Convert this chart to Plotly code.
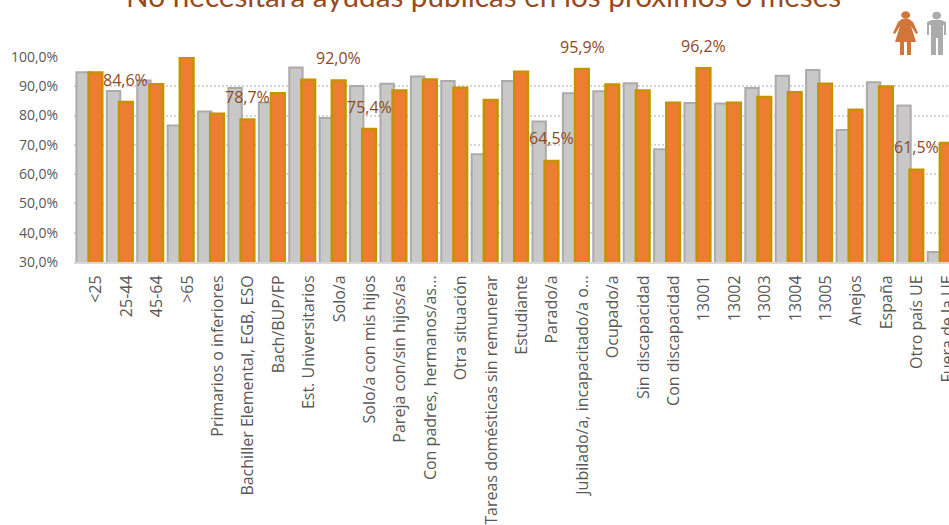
import plotly.graph_objects as go

categories = ["<25","25-44","45-64",">65","Primarios o inferiores","Bachiller Elemental, EGB, ESO","Bach/BUP/FP","Est. Universitarios","Solo/a","Solo/a con mis hijos","Pareja con/sin hijos/as","Con padres, hermanos/as...","Otra situación","Tareas domésticas sin remunerar","Estudiante","Parado/a","Jubilado/a, incapacitado/a o...","Ocupado/a","Sin discapacidad","Con discapacidad","13001","13002","13003","13004","13005","Anejos","España","Otro país UE","Fuera de la UE"]
hombres = [94.8,88.4,92.0,76.6,81.4,89.4,84.5,96.4,79.2,90.1,90.9,93.3,91.8,66.8,91.8,78.0,87.6,88.3,91.0,68.5,84.3,84.1,89.4,93.6,95.6,75.1,91.4,83.4,33.4]
mujeres = [94.7,84.6,90.7,100.0,80.6,78.7,87.6,92.2,92.0,75.4,88.6,92.3,89.5,85.3,95.0,64.5,95.9,90.6,88.6,84.4,96.2,84.4,86.3,88.0,90.9,82.0,89.9,61.5,70.6]
labelled = {1:"84,6%",5:"78,7%",8:"92,0%",9:"75,4%",15:"64,5%",16:"95,9%",20:"96,2%",27:"61,5%"}
y_ticks = [30,40,50,60,70,80,90,100]
y_labels = ["30,0%","40,0%","50,0%","60,0%","70,0%","80,0%","90,0%","100,0%"]
title = "No necesitará ayudas públicas en los próximos 6 meses"

W, H = 949, 525
L, T, B = 74, 57, 262.5
FONT = "Open Sans, sans-serif"
idx = list(range(len(categories)))

def px(x): return (x-L)/(W-L)
def py(y): return (B-y)/(B-T)

fig = go.Figure()
fig.add_bar(x=idx, y=hombres, base=0, width=0.44, offset=-0.42, name="Hombres",
            marker=dict(color="#C8C8C8", line=dict(color="#AEAAAA", width=2)))
fig.add_bar(x=idx, y=mujeres, base=0, width=0.45, offset=-0.02, name="Mujeres",
            marker=dict(color="#ED7D31", line=dict(color="#C69200", width=2.5)))

annotations = [dict(x=i+0.21, y=mujeres[i], xref="x", yref="y", text=t, showarrow=False,
                    yanchor="middle", yshift=22.5, font=dict(family=FONT, size=16, color="#8E4A1E"))
               for i, t in labelled.items()]
annotations.append(dict(x=px(483.5), y=py(14.5), xref="paper", yref="paper", yanchor="bottom",
                        xanchor="center", text=title, showarrow=False,
                        font=dict(family="Lato, sans-serif", size=29.7, color="#964B1E")))

def path(pts):
    return "M" + " L".join(f"{px(a):.4f},{py(b):.4f}" for a, b in pts) + " Z"

def circle(cx, cy, rx, ry, color):
    return dict(type="circle", xref="paper", yref="paper", x0=px(cx-rx), x1=px(cx+rx),
                y0=py(cy+ry), y1=py(cy-ry), fillcolor=color, line=dict(width=0), layer="above")

wc, mc = "#D2753B", "#ABABAB"
woman = [(902,19),(909,19),(913,22),(918,33),(916,34),(911,26),(916,42),(911,42),(911,55),(907,55),(907,42),(904,42),(904,55),(900,55),(900,42),(895,42),(900,26),(895,34),(893,33),(898,22)]
man = [(932,20),(941,20),(946,22),(946,35),(944,35),(944,25),(943,25),(943,55),(938,55),(938,38),(936,38),(936,55),(931,55),(931,25),(929,25),(929,35),(927,35),(927,22)]
shapes = [
    circle(905.7,15,4.5,3.8,wc), dict(type="path", xref="paper", yref="paper", path=path(woman), fillcolor=wc, line=dict(width=0)),
    circle(936.7,15.5,4.3,3.8,mc), dict(type="path", xref="paper", yref="paper", path=path(man), fillcolor=mc, line=dict(width=0)),
]

fig.update_layout(
    width=W, height=H, autosize=False, showlegend=False, barmode="overlay",
    margin=dict(l=L, r=0, t=T, b=H-B, pad=0),
    paper_bgcolor="white", plot_bgcolor="white",
    annotations=annotations, shapes=shapes,
    font=dict(family=FONT, color="#595959"),
    xaxis=dict(range=[-0.5,28.28], tickmode="array", tickvals=idx, ticktext=categories, tickangle=-90,
               ticks="outside", ticklen=5, tickcolor="rgba(0,0,0,0)", ticklabelshift=7, ticklabeloverflow="allow",
               showgrid=False, showline=True, linecolor="#D9D9D9", linewidth=2,
               tickfont=dict(family=FONT, size=16, color="#595959"), automargin=False),
    yaxis=dict(range=[30,100], tickmode="array", tickvals=y_ticks, ticktext=y_labels,
               ticks="outside", ticklen=12, tickcolor="rgba(0,0,0,0)",
               showgrid=True, gridcolor="#D6D6D6", griddash="1.5px,2.5px", gridwidth=1.5, zeroline=False,
               tickfont=dict(family=FONT, size=14, color="#595959"), automargin=False),
)
fig.write_html("out.html", config={"displayModeBar": False},
               post_script="document.body.style.margin='0';document.documentElement.style.overflow='hidden';")
